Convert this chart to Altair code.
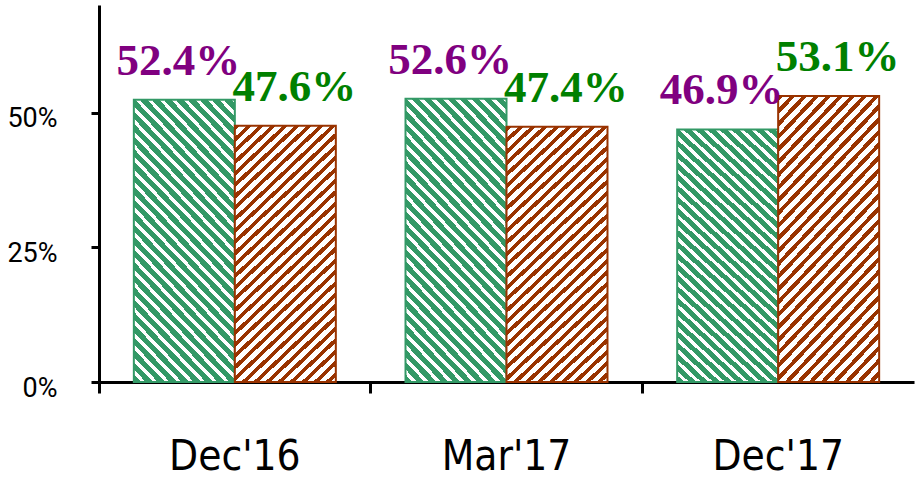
import math
import altair as alt
import pandas as pd

# Survey periods and the two shares (percent) for each period
periods = ["Dec'16", "Mar'17", "Dec'17"]
groups = ["Group A", "Group B"]
share_a = [52.4, 52.6, 46.9]
share_b = [47.6, 47.4, 53.1]

bar_colors = ["#339966", "#993300"]
label_colors = ["#800080", "#008000"]

rows = []
for p, a, b in zip(periods, share_a, share_b):
    rows.append({"period": p, "group": groups[0], "value": a})
    rows.append({"period": p, "group": groups[1], "value": b})
df = pd.DataFrame(rows)


def stripe_fill(base, white_frac, rising, w=101.0, h=270.0, period=12.0):
    """Diagonal hatch built from a hard-stop linear gradient (bounding-box units)."""
    k = (w + h) / (w * w + h * h)
    dx, dy = w * k, h * k
    n = math.ceil((w + h) / period)
    step = 1.0 / ((w + h) / period)
    stops = []
    for i in range(n):
        s = i * step
        m = s + step * (1 - white_frac)
        e = (i + 1) * step
        for off, col in ((s, base), (min(m, 1), base), (min(m, 1), "#ffffff"), (min(e, 1), "#ffffff")):
            stops.append({"offset": round(off, 5), "color": col})
        if e >= 1:
            break
    if rising:
        return {"gradient": "linear", "x1": 0, "y1": 0, "x2": dx, "y2": dy, "stops": stops}
    return {"gradient": "linear", "x1": 0, "y1": 1, "x2": dx, "y2": 1 - dy, "stops": stops}


x_enc = alt.X(
    "period:N",
    sort=periods,
    scale=alt.Scale(paddingInner=0, paddingOuter=0),
    axis=alt.Axis(
        title=None,
        bandPosition=0,
        domainColor="black",
        domainWidth=3,
        tickColor="black",
        tickSize=11,
        tickWidth=3,
        labelAngle=0,
        labelFont="DejaVu Sans Condensed, DejaVu Sans",
        labelFontSize=42,
        labelColor="black",
        labelBaseline="alphabetic",
        labelPadding=76,
    ),
)
xoff_enc = alt.XOffset(
    "group:N", sort=groups, scale=alt.Scale(domain=groups, paddingOuter=0.345, paddingInner=0)
)
y_enc = alt.Y(
    "value:Q",
    scale=alt.Scale(domain=[0, 70], nice=False),
    axis=alt.Axis(
        title=None,
        values=[0, 25, 50],
        labelExpr="datum.value + '%'",
        grid=False,
        domainColor="black",
        domainWidth=3,
        tickColor="black",
        tickSize=8,
        tickWidth=3,
        labelFont="Roboto",
        labelFontSize=27,
        labelColor="black",
        labelPadding=34,
        labelOffset=6,
    ),
)

base = alt.Chart(df).encode(x=x_enc, xOffset=xoff_enc, y=y_enc)

bars_a = base.transform_filter(alt.datum.group == groups[0]).mark_bar(
    fill=stripe_fill(bar_colors[0], 0.4, rising=False),
    stroke=bar_colors[0],
    strokeWidth=2,
)
bars_b = base.transform_filter(alt.datum.group == groups[1]).mark_bar(
    fill=stripe_fill(bar_colors[1], 0.55, rising=True),
    stroke=bar_colors[1],
    strokeWidth=2,
)


def value_labels(group, color, shift):
    return base.transform_filter(alt.datum.group == group).transform_calculate(
        label="format(datum.value, '.1f') + '%'"
    ).mark_text(
        font="Liberation Serif",
        fontSize=45,
        fontWeight="bold",
        baseline="alphabetic",
        color=color,
        dx=shift,
        dy=-25,
    ).encode(text="label:N")


labels_a = value_labels(groups[0], label_colors[0], -6)
labels_b = value_labels(groups[1], label_colors[1], 9)

chart = (
    alt.layer(bars_a, bars_b, labels_a, labels_b)
    .properties(
        width=815,
        height=377,
        autosize=alt.AutoSizeParams(type="none"),
        padding={"left": 99, "top": 5, "right": 2, "bottom": 98},
        background="white",
    )
    .configure_view(stroke=None)
)

chart.save("out.html", embed_options={"renderer": "svg", "actions": False})
